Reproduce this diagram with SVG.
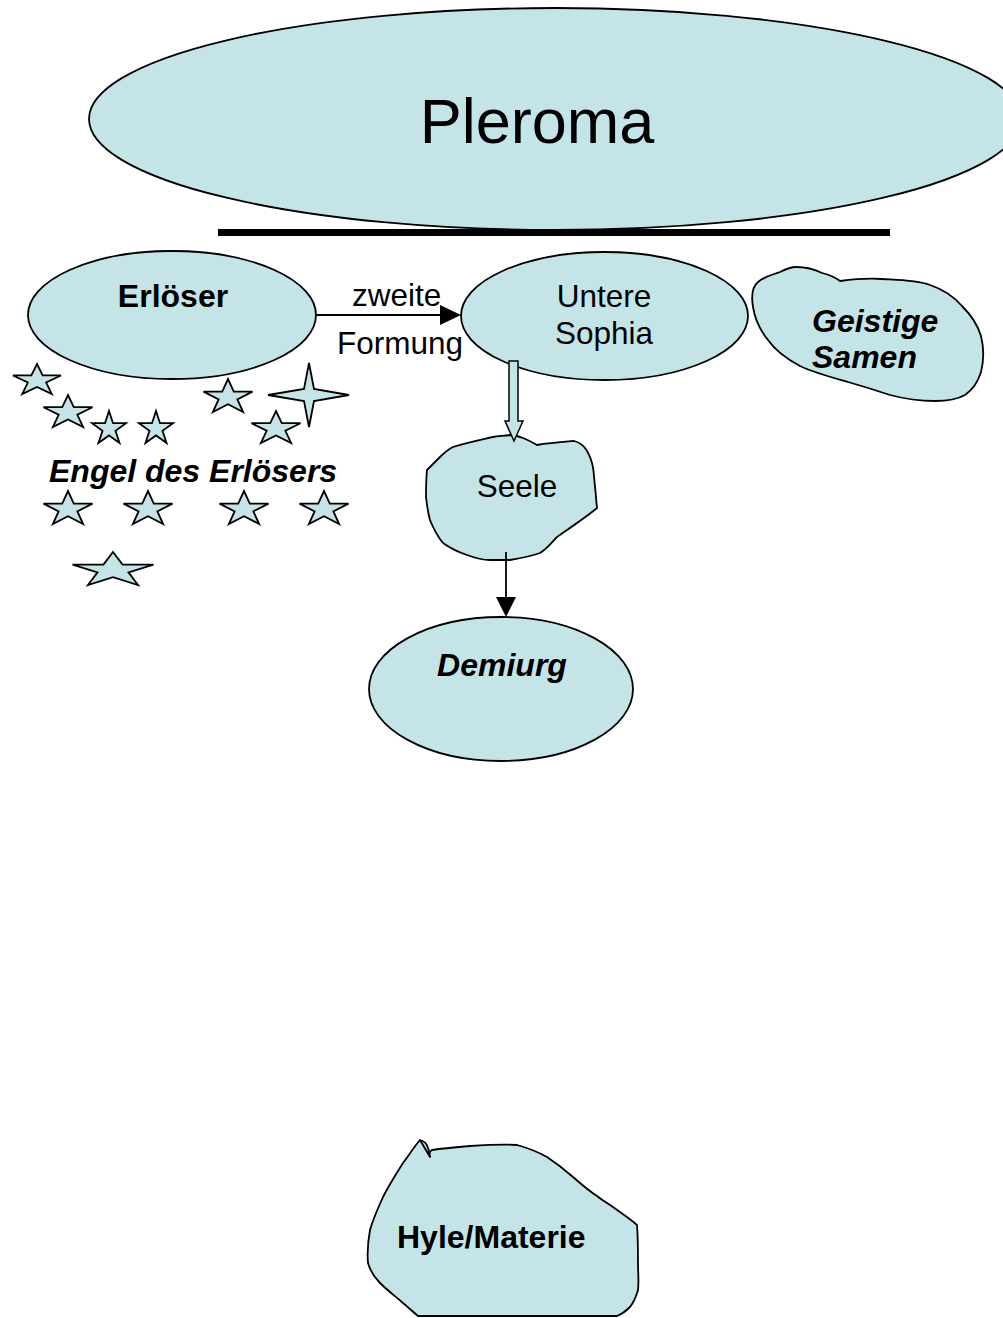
<svg xmlns="http://www.w3.org/2000/svg" xmlns:xlink="http://www.w3.org/1999/xlink" width="1003" height="1318" viewBox="0 0 1003 1318">
  <style>
    .shape { fill: #C5E4E8; stroke: #000; stroke-width: 1.8; stroke-linejoin: round; }
    .star { fill: #C5E4E8; stroke: #000; stroke-width: 1.8; stroke-linejoin: miter; vector-effect: non-scaling-stroke; }
    .txt { font-family: "Liberation Sans", Arial, sans-serif; font-size: 31.5px; fill: #000; }
    .b { font-weight: bold; font-size: 32px; }
    .bi { font-weight: bold; font-style: italic; font-size: 32px; }
    .mid { text-anchor: middle; }
    .line { stroke: #000; stroke-width: 1.8; fill: none; }
    .head { fill: #000; stroke: none; }
  </style>
  <defs>
    <!-- unit five-pointed star: 1 wide, 1 high, top point at (0,0) -->
    <polygon id="star5" class="star" points="0,0 0.118,0.382 0.5,0.382 0.191,0.618 0.309,1 0,0.764 -0.309,1 -0.191,0.618 -0.5,0.382 -0.118,0.382"/>
  </defs>

  <rect width="1003" height="1318" fill="#fff"/>

  <!-- Pleroma and its boundary bar -->
  <g id="pleroma">
    <ellipse class="shape" cx="555" cy="119" rx="466" ry="111"/>
    <rect x="218" y="229" width="672" height="7" fill="#000"/>
    <text class="txt mid" x="537" y="143" style="font-size:63px">Pleroma</text>
  </g>

  <g id="erloeser">
    <ellipse class="shape" cx="172" cy="315" rx="144" ry="64"/>
    <text class="txt b mid" x="173" y="307">Erlöser</text>
  </g>

  <g id="untere-sophia">
    <ellipse class="shape" cx="604.5" cy="316" rx="143.5" ry="64"/>
    <text class="txt mid" x="604" y="307">Untere</text>
    <text class="txt mid" x="604" y="344">Sophia</text>
  </g>

  <g id="geistige-samen">
    <path class="shape" d="M758,282 C765,276 772,275 780,272 C786,269 790,267 796,267 C806,267 814,269 822,273 C830,275 835,277 840,281 C855,279 868,278 882,279 C900,280 916,280 930,285 C945,290 955,298 962,306 C972,316 978,326 981,336 C984,348 984,360 981,372 C978,382 972,390 965,395 C958,399 948,401 935,401 C918,401 905,399 890,395 C875,390 862,386 848,382 C830,377 815,373 800,366 C785,358 775,350 768,340 C760,330 755,320 753,307 C751,295 752,287 758,282 Z"/>
    <text class="txt bi" x="812" y="332">Geistige</text>
    <text class="txt bi" x="812" y="368">Samen</text>
  </g>

  <g id="engel">
    <use xlink:href="#star5" transform="translate(37,364) scale(48,30)"/>
    <use xlink:href="#star5" transform="translate(68,395) scale(49,32)"/>
    <use xlink:href="#star5" transform="translate(109,411) scale(34,32)"/>
    <use xlink:href="#star5" transform="translate(156,411) scale(34,32)"/>
    <use xlink:href="#star5" transform="translate(228,379) scale(49,33)"/>
    <use xlink:href="#star5" transform="translate(276,411) scale(49,32)"/>
    <polygon class="star" points="309,363 314,389 349,395 314,401 309,427 304,401 268,395 304,389"/>
    <text class="txt bi" x="49" y="482">Engel des Erlösers</text>
    <use xlink:href="#star5" transform="translate(68,491) scale(49,33)"/>
    <use xlink:href="#star5" transform="translate(148,491) scale(49,33)"/>
    <use xlink:href="#star5" transform="translate(244,491) scale(49,33)"/>
    <use xlink:href="#star5" transform="translate(324,491) scale(49,33)"/>
    <use xlink:href="#star5" transform="translate(113,552) scale(81,33)"/>
  </g>

  <g id="seele">
    <path class="shape" d="M510,435 C504,436 498,436 493,437 C480,440 466,443 453,447 C447,450 443,454 440,457 C435,462 431,466 427,470 C426,480 426,489 426,497 C427,506 428,513 430,520 C434,530 438,537 443,543 C450,548 458,552 467,555 C475,558 482,560 490,560 C497,560 503,560 510,560 C522,558 532,556 540,553 C548,548 552,542 557,537 C564,532 570,528 577,523 C584,518 591,513 597,508 C596,500 596,494 595,487 C594,478 594,470 592,463 C590,456 588,452 585,448 C582,444 578,442 574,441 C562,442 549,443 537,445 C532,442 528,440 523,438 C518,436 514,435 510,435 Z"/>
    <text class="txt mid" x="517" y="497">Seele</text>
  </g>

  <g id="demiurg">
    <ellipse class="shape" cx="501" cy="689" rx="132" ry="72"/>
    <text class="txt bi mid" x="502" y="676">Demiurg</text>
  </g>

  <g id="hyle">
    <path class="shape" d="M420,1140 C424,1141 427,1144 428,1148 C429,1151 430,1154 430,1157 M430,1157 C429,1154 430,1151 432,1150 C445,1148 458,1147 470,1146 C486,1145 502,1144 517,1145 C528,1148 538,1152 547,1157 C556,1163 565,1170 573,1177 C581,1184 589,1191 597,1196 C602,1200 607,1203 613,1207 C621,1213 629,1218 637,1225 C638,1238 638,1250 638,1263 C638,1272 639,1281 638,1290 C636,1297 634,1302 630,1307 C626,1311 622,1314 617,1316 L418,1316 C413,1312 408,1307 403,1303 C395,1296 387,1290 380,1283 C374,1277 370,1270 368,1263 C367,1252 368,1241 370,1230 C373,1219 378,1208 383,1197 C389,1185 396,1174 403,1163 C409,1155 414,1147 420,1140 Z"/>
    <text class="txt b" x="397" y="1248">Hyle/Materie</text>
  </g>

  <g id="connectors">
    <!-- Erlöser to Untere Sophia -->
    <line class="line" x1="316" y1="315" x2="441" y2="315"/>
    <polygon class="head" points="440,305 461,315 440,325"/>
    <!-- Untere Sophia to Seele (hollow block arrow) -->
    <polygon class="shape" style="stroke-width:1.5;stroke-linejoin:miter" points="509,361 518,361 518,421 523,421 514,441 505,421 509,421"/>
    <!-- Seele to Demiurg -->
    <line class="line" x1="506" y1="552" x2="506" y2="599"/>
    <polygon class="head" points="496,597 516,597 506,617"/>
    <text class="txt" x="352" y="306">zweite</text>
    <text class="txt" x="337" y="354">Formung</text>
  </g>
</svg>
